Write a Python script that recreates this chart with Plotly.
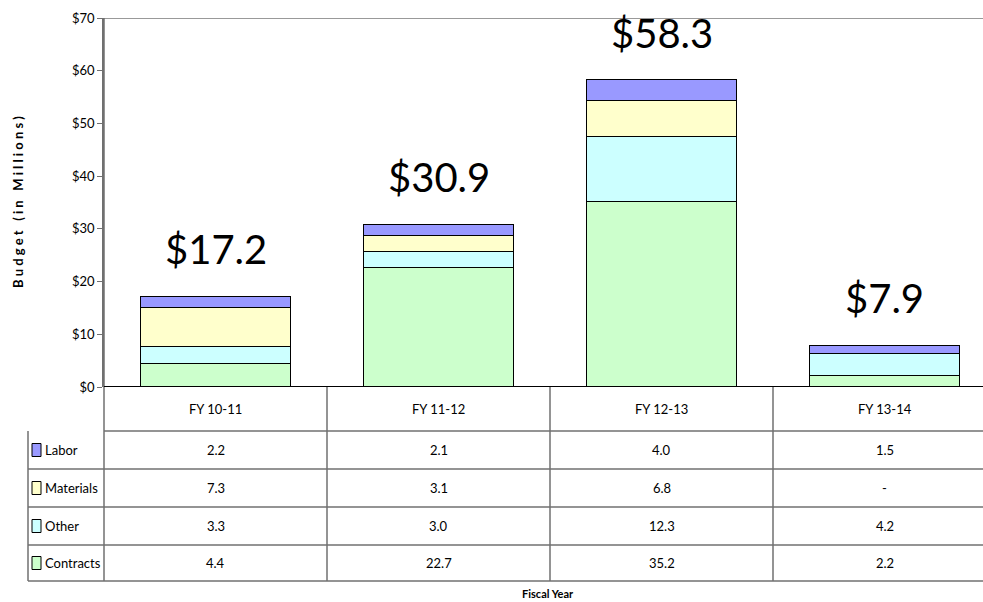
import plotly.graph_objects as go

categories = ["FY 10-11", "FY 11-12", "FY 12-13", "FY 13-14"]
series_names = ["Contracts", "Other", "Materials", "Labor"]
contracts = [4.4, 22.7, 35.2, 2.2]
other = [3.3, 3.0, 12.3, 4.2]
materials = [7.3, 3.1, 6.8, 0.0]
labor = [2.2, 2.1, 4.0, 1.5]
table_text = {
    "Labor": ["2.2", "2.1", "4.0", "1.5"],
    "Materials": ["7.3", "3.1", "6.8", "-"],
    "Other": ["3.3", "3.0", "12.3", "4.2"],
    "Contracts": ["4.4", "22.7", "35.2", "2.2"],
}
totals_text = ["$17.2", "$30.9", "$58.3", "$7.9"]
colors = {"Contracts": "#CCFFCC", "Other": "#CCFFFF", "Materials": "#FFFFCC", "Labor": "#9999FF"}
tick_vals = [0, 10, 20, 30, 40, 50, 60, 70]
tick_text = ["$0", "$10", "$20", "$30", "$40", "$50", "$60", "$70"]

W, H = 983, 602
L, T, B = 104, 18, 387          # plot area pixels
col_w = 223                     # category width in px
x_range = [-0.5, -0.5 + (W - L) / col_w]

def py(p):   # pixel y -> paper y
    return (B - p) / (B - T)

def pxx(p):  # pixel x -> paper x
    return (p - L) / (W - L)

FONT = "Lato, Open Sans, sans-serif"

values = {"Contracts": contracts, "Other": other, "Materials": materials, "Labor": labor}
xs = list(range(len(categories)))

fig = go.Figure()
for name in series_names:
    fig.add_trace(go.Bar(
        x=xs, y=values[name], name=name, width=150 / col_w,
        marker=dict(color=colors[name], line=dict(color="#000000", width=1)),
        showlegend=False, hoverinfo="skip",
    ))

totals = [c + o + m + l for c, o, m, l in zip(contracts, other, materials, labor)]
annotations = []
for i, (t, txt) in enumerate(zip(totals, totals_text)):
    annotations.append(dict(x=i, y=t, xref="x", yref="y", text=txt, showarrow=False,
                            xanchor="center", yanchor="middle", yshift=47,
                            font=dict(family=FONT, size=40, color="#000")))

shapes = []
grid = "#707070"
# top border line at $70
shapes.append(dict(type="line", xref="paper", yref="y", x0=0, x1=1, y0=70, y1=70,
                   line=dict(color="#999999", width=2)))
# table horizontal lines
row_lines = [431, 469, 507, 545, 581]
for i, r in enumerate(row_lines):
    x0 = 0 if i == 0 else pxx(28)
    shapes.append(dict(type="line", xref="paper", yref="paper", x0=x0, x1=1, y0=py(r), y1=py(r),
                       line=dict(color=grid, width=1.5)))
# vertical lines
shapes.append(dict(type="line", xref="paper", yref="paper", x0=pxx(28), x1=pxx(28),
                   y0=py(431), y1=py(581), line=dict(color=grid, width=1.5)))
shapes.append(dict(type="line", xref="paper", yref="paper", x0=0, x1=0,
                   y0=py(T), y1=py(581), line=dict(color=grid, width=1.5)))
for k in range(1, len(categories)):
    xv = k - 0.5
    shapes.append(dict(type="line", xref="x", yref="paper", x0=xv, x1=xv,
                       y0=0, y1=py(581), line=dict(color=grid, width=1.5)))
# x axis line at $0
shapes.append(dict(type="line", xref="paper", yref="y", x0=0, x1=1, y0=0, y1=0,
                   line=dict(color="#000000", width=2)))

# header row
for i, c in enumerate(categories):
    annotations.append(dict(x=i, y=py(409), xref="x", yref="paper", text=c, showarrow=False,
                            xanchor="center", yanchor="middle",
                            font=dict(family=FONT, size=13, color="#000")))
# table rows
row_order = ["Labor", "Materials", "Other", "Contracts"]
for r, name in enumerate(row_order):
    yc = (row_lines[r] + row_lines[r + 1]) / 2
    shapes.append(dict(type="rect", xref="paper", yref="paper",
                       x0=pxx(32), x1=pxx(41), y0=py(yc - 6.5), y1=py(yc + 6.5),
                       fillcolor=colors[name], line=dict(color="#000000", width=1)))
    annotations.append(dict(x=pxx(43), y=py(yc), xref="paper", yref="paper", text=name,
                            showarrow=False, xanchor="left", yanchor="middle",
                            font=dict(family=FONT, size=13, color="#000")))
    for i, v in enumerate(table_text[name]):
        annotations.append(dict(x=i, y=py(yc), xref="x", yref="paper", text=v, showarrow=False,
                                xanchor="center", yanchor="middle",
                                font=dict(family=FONT, size=13, color="#000")))

# axis titles
annotations.append(dict(x=pxx(548), y=py(593), xref="paper", yref="paper", text="<b>Fiscal Year</b>",
                        showarrow=False, xanchor="center", yanchor="middle",
                        font=dict(family=FONT, size=11, color="#000")))
annotations.append(dict(x=pxx(18), y=py(202), xref="paper", yref="paper",
                        text="<b>B u d g e t   ( i n   M i l l i o n s )</b>", textangle=-90,
                        showarrow=False, xanchor="center", yanchor="middle",
                        font=dict(family=FONT, size=13, color="#000")))

fig.update_layout(
    barmode="stack", width=W, height=H,
    margin=dict(l=L, r=0, t=T, b=H - B, autoexpand=False),
    paper_bgcolor="white", plot_bgcolor="white",
    xaxis=dict(range=x_range, showticklabels=False, showgrid=False, zeroline=False,
               showline=False, fixedrange=True),
    yaxis=dict(range=[0, 70], tickvals=tick_vals, ticktext=tick_text, showgrid=False,
               zeroline=False, showline=True, linecolor=grid, linewidth=1.5,
               ticks="outside", ticklen=5, tickcolor=grid,
               tickfont=dict(family=FONT, size=13, color="#000")),
    shapes=shapes, annotations=annotations,
)

fig.write_html("out.html", config={"displayModeBar": False},
               post_script="document.body.style.margin='0px';document.body.style.overflow='hidden';")
